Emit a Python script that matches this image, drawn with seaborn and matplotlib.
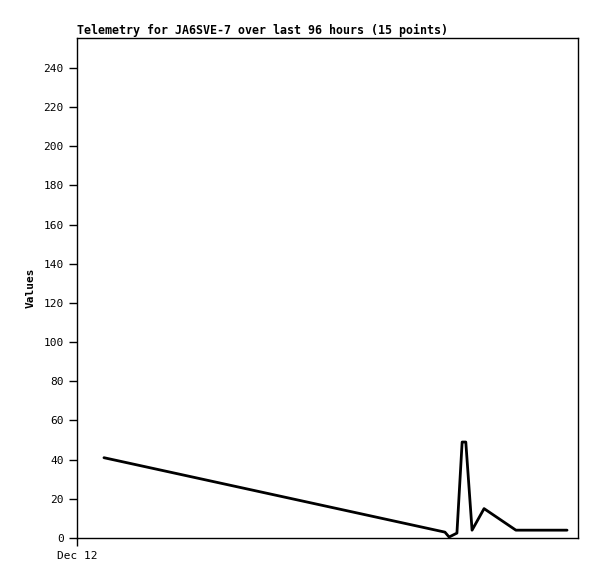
import matplotlib
matplotlib.use("Agg")
import matplotlib.pyplot as plt
import seaborn as sns
import pandas as pd

times = ["2023-12-12 05:10", "2023-12-14 22:30", "2023-12-14 23:18", "2023-12-15 00:48",
         "2023-12-15 01:48", "2023-12-15 02:30", "2023-12-15 03:42", "2023-12-15 06:00",
         "2023-12-15 12:06", "2023-12-15 21:54"]
values = [41, 3, 0.5, 2.5, 49, 49, 4, 15, 4, 4]
x_tick_labels = ["Dec 12"]
x_tick_times = ["2023-12-12 00:00"]
y_ticks = list(range(0, 241, 20))

df = pd.DataFrame({"time": pd.to_datetime(times), "value": values})

sns.set_style("white")
plt.rcParams['font.family'] = ['DejaVu Sans Mono']

fig = plt.figure(figsize=(5.97, 5.79), dpi=100)
ax = fig.add_axes([77/597, 1 - 538/579, (578-77)/597, (538-38)/579])

sns.lineplot(data=df, x="time", y="value", ax=ax, color="black", linewidth=2)

start = pd.Timestamp("2023-12-12 00:00")
ax.set_xlim(start, start + pd.Timedelta(hours=96))
ax.set_ylim(0, 255.3)
ax.set_yticks(y_ticks)
ax.set_yticklabels([str(v) for v in y_ticks], fontsize=8)
ax.set_xticks(pd.to_datetime(x_tick_times))
ax.set_xticklabels(x_tick_labels, fontsize=8)
ax.tick_params(axis="both", direction="out", length=5.5, width=1, color="black",
               labelcolor="black", pad=4, bottom=True, left=True)
for s in ax.spines.values():
    s.set_color("black")
    s.set_linewidth(1)
ax.set_xlabel("")
ax.set_ylabel("Values", fontsize=8, fontweight="bold", labelpad=6, color="black")
ax.set_title("Telemetry for JA6SVE-7 over last 96 hours (15 points)", loc="left",
             fontsize=8.35, fontweight="bold", pad=3, color="black")

fig.savefig("out.png", dpi=100)
